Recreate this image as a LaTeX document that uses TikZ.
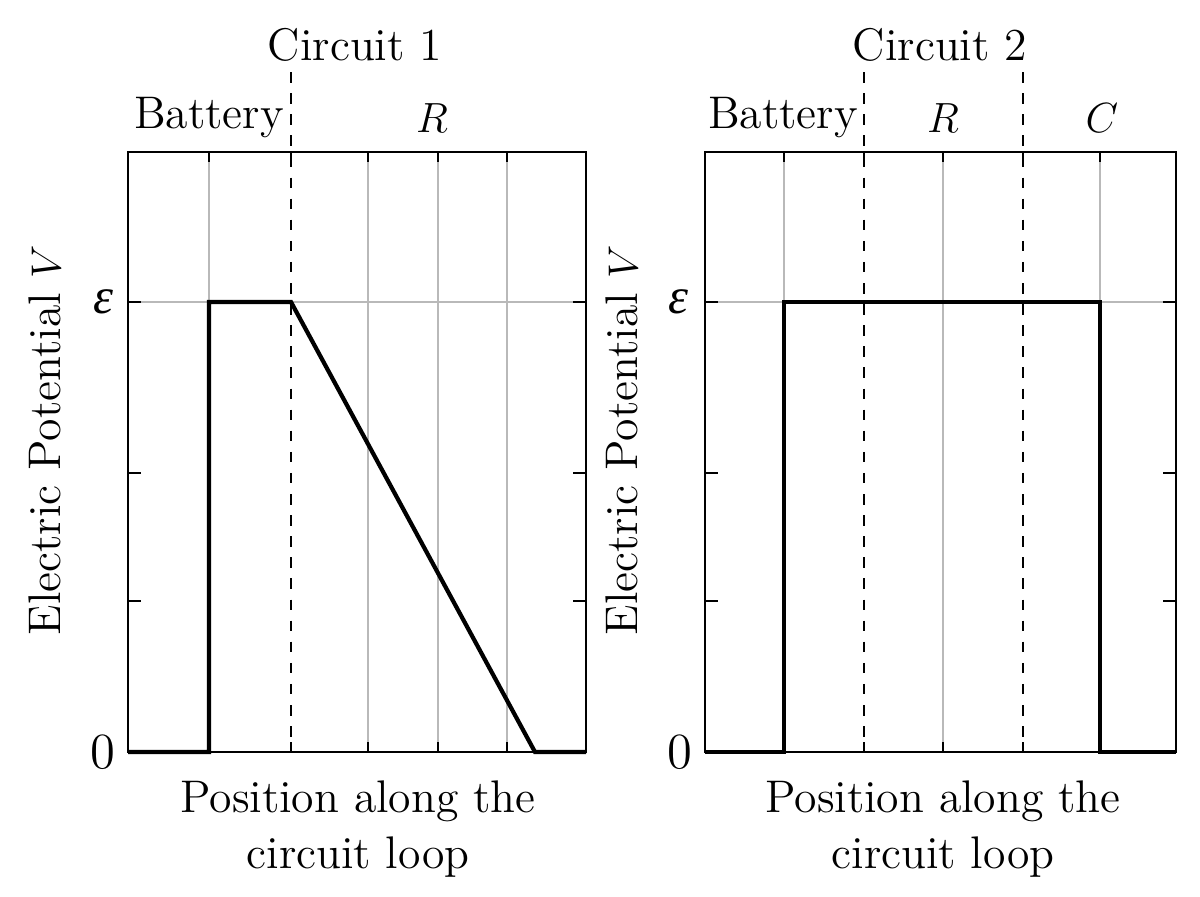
\documentclass[tikz,border=0pt]{standalone}
\usepackage{fontspec}
\newfontfamily\greekfont{Liberation Serif}
\usetikzlibrary{positioning}
\begin{document}
\begin{tikzpicture}[x=0.01cm,y=-0.01cm]
    \tikzset{
      grid/.style={gray!55, line width=0.35pt},
      frame/.style={line width=0.65pt},
      boundary/.style={dashed, line width=0.65pt},
      potential/.style={line width=1.2pt, line join=miter},
      lbl/.style={font=\fontsize{13}{16}\selectfont, inner sep=0pt},
    }
    \useasboundingbox (0,0) rectangle (1200,896);

    % circuit 1
    \foreach \x in {209,368,438,507}
      \draw[grid] (\x,152) -- (\x,752);
    \draw[grid] (128,302) -- (586,302);
    \foreach \x in {209,291,368,438,507} {
      \draw[frame] (\x,152) -- (\x,162);
      \draw[frame] (\x,752) -- (\x,742);
    }
    \foreach \y in {302,473,601} {
      \draw[frame] (128,\y) -- (141,\y);
      \draw[frame] (586,\y) -- (573,\y);
    }
    \draw[boundary] (291,72) -- (291,752);
    \draw[potential] (128,752) -- (209,752) -- (209,302) -- (291,302) -- (535,752) -- (586,752);
    \draw[frame] (128,152) rectangle (586,752);

    \node[lbl] (c1) at (355,45) {Circuit 1};
    \node[lbl] (bat1) at (209,118) {Battery};
    \node[lbl] (r1) at (432,118) {$R$};
    \node[lbl, rotate=90] (v1) at (45,440) {Electric Potential $V$};
    \node[lbl] (eps1) at (103,302) {\greekfont\itshape\Large ε};
    \node[lbl] (zero1) at (103,752) {\Large 0};
    \node[lbl, align=center] (x1) at (358,829) {Position along the\\circuit loop};

    % circuit 2
    \foreach \x in {784,943,1100}
      \draw[grid] (\x,152) -- (\x,752);
    \draw[grid] (705,302) -- (1176,302);
    \foreach \x in {784,864,943,1023,1100} {
      \draw[frame] (\x,152) -- (\x,162);
      \draw[frame] (\x,752) -- (\x,742);
    }
    \foreach \y in {302,473,601} {
      \draw[frame] (705,\y) -- (718,\y);
      \draw[frame] (1176,\y) -- (1163,\y);
    }
    \draw[boundary] (864,72) -- (864,752);
    \draw[boundary] (1023,72) -- (1023,752);
    \draw[potential] (705,752) -- (784,752) -- (784,302) -- (1100,302) -- (1100,752) -- (1176,752);
    \draw[frame] (705,152) rectangle (1176,752);

    \node[lbl] (c2) at (940,45) {Circuit 2};
    \node[lbl] (bat2) at (783,118) {Battery};
    \node[lbl] (r2) at (943,118) {$R$};
    \node[lbl] (cap2) at (1102,118) {$C$};
    \node[lbl, rotate=90] (v2) at (622,440) {Electric Potential $V$};
    \node[lbl] (eps2) at (678,302) {\greekfont\itshape\Large ε};
    \node[lbl] (zero2) at (680,752) {\Large 0};
    \node[lbl, align=center] (x2) at (943,829) {Position along the\\circuit loop};
\end{tikzpicture}
\end{document}
